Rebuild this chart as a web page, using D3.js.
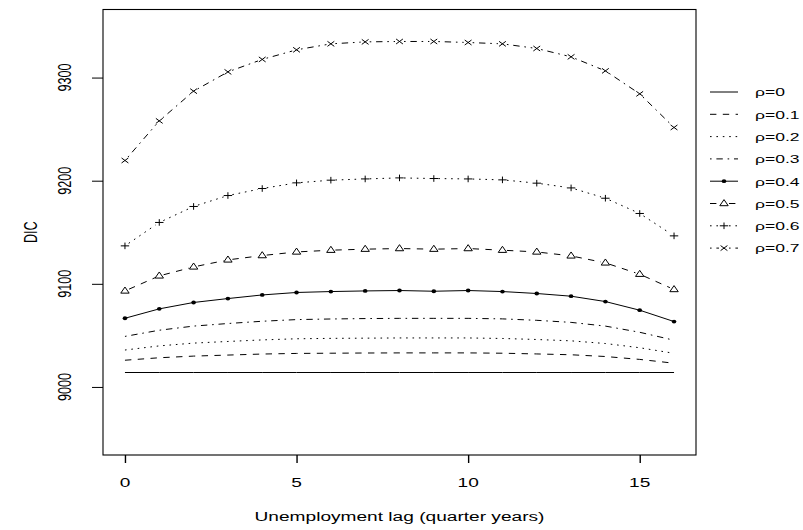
<!DOCTYPE html>
<html>
<head>
<meta charset="utf-8">
<script src="https://cdn.jsdelivr.net/npm/d3@7"></script>
<style>
  body { margin: 0; background: #fff; }
  text { font-family: "Liberation Sans", Arial, Helvetica, sans-serif; fill: #000; }
</style>
</head>
<body>
<svg id="chart" width="803" height="530"></svg>
<script>
// Unemployment lag in quarter years
const lags = [0, 1, 2, 3, 4, 5, 6, 7, 8, 9, 10, 11, 12, 13, 14, 15, 16];

// DIC for each spatial correlation rho
const rho00 = [9014, 9014, 9014, 9014, 9014, 9014, 9014, 9014, 9014, 9014, 9014, 9014, 9014, 9014, 9014, 9014, 9014];
const rho01 = [9025.9, 9028.3, 9029.9, 9030.9, 9031.9, 9032.5, 9032.7, 9032.9, 9033.0, 9033.0, 9033.0, 9032.7, 9032.0, 9031.2, 9029.5, 9026.7, 9023.0];
const rho02 = [9035.8, 9039.8, 9042.5, 9044.1, 9045.6, 9046.7, 9047.1, 9047.3, 9047.5, 9047.5, 9047.5, 9047.0, 9046.0, 9044.7, 9042.1, 9038.0, 9032.6];
const rho03 = [9049.0, 9055.0, 9059.0, 9061.5, 9063.7, 9065.3, 9065.9, 9066.3, 9066.5, 9066.5, 9066.5, 9066.0, 9064.6, 9062.6, 9059.0, 9053.0, 9045.3];
const rho04 = [9066.6, 9075.7, 9081.9, 9085.7, 9089.2, 9091.6, 9092.5, 9093.1, 9093.5, 9092.8, 9093.5, 9092.5, 9090.6, 9088.0, 9082.8, 9074.4, 9063.4];
const rho05 = [9093.1, 9107.7, 9116.4, 9123.2, 9127.4, 9130.9, 9132.6, 9133.6, 9134.2, 9133.6, 9134.2, 9132.6, 9130.9, 9127.1, 9120.3, 9109.3, 9094.5];
const rho06 = [9136.8, 9159.5, 9175.0, 9185.6, 9192.4, 9197.9, 9200.5, 9201.7, 9202.7, 9202.1, 9201.7, 9200.8, 9197.6, 9193.0, 9183.0, 9168.2, 9146.5];
const rho07 = [9219.6, 9258.0, 9286.8, 9305.5, 9317.6, 9326.9, 9332.7, 9334.6, 9335.0, 9335.0, 9334.0, 9332.7, 9328.2, 9320.1, 9306.5, 9284.2, 9251.6];

const seriesLabels = ["ρ=0", "ρ=0.1", "ρ=0.2", "ρ=0.3", "ρ=0.4", "ρ=0.5", "ρ=0.6", "ρ=0.7"];

const xTicks = [0, 5, 10, 15];
const yTicks = [9000, 9100, 9200, 9300];
const xTitle = "Unemployment lag (quarter years)";
const yTitle = "DIC";

// Line types and plotting symbols per series
const DASHED = "6.4,6.4", DOTTED = "1.6,4.8", DOTDASH = "1.6,4.8,6.4,4.8";
const lineTypes = [null, DASHED, DOTTED, DOTDASH, null, DASHED, DOTTED, DOTDASH];
const symbols = [null, null, null, null, "dot", "triangle", "plus", "cross"];
const gapped = [false, false, false, false, false, true, true, true];

const seriesValues = [rho00, rho01, rho02, rho03, rho04, rho05, rho06, rho07];

// Graphics device is stretched horizontally relative to vertically
const SX = 1.593, SY = 1.052;

const box = { left: 103, right: 696, top: 9.5, bottom: 455 };

const svg = d3.select("#chart");

const x = d3.scaleLinear().domain([-0.64, 16.64]).range([box.left, box.right]);
const y = d3.scaleLinear().domain([8934, 9366]).range([box.bottom, box.top]);

function stretchedText(g, px, py, str, anchor, rotate, size) {
  g.append("text")
    .attr("transform", `translate(${px},${py}) scale(${SX},${SY})` + (rotate ? " rotate(-90)" : ""))
    .attr("text-anchor", anchor)
    .attr("font-size", size || 12)
    .text(str);
}

function symbolPath(kind) {
  switch (kind) {
    case "triangle": return "M0,-3.9L4.2,2.2L-4.2,2.2Z";
    case "plus": return "M-4.2,0H4.2M0,-3.3V3.3";
    case "cross": return "M-3.4,-2.5L3.4,2.5M-3.4,2.5L3.4,-2.5";
    default: return null;
  }
}

function drawSymbol(g, kind, px, py) {
  if (kind === "dot") {
    g.append("ellipse").attr("cx", px).attr("cy", py).attr("rx", 2.3).attr("ry", 1.9).attr("fill", "#000");
  } else if (kind) {
    g.append("path").attr("transform", `translate(${px},${py})`).attr("d", symbolPath(kind))
      .attr("fill", kind === "triangle" ? "#fff" : "none").attr("stroke", "#000").attr("stroke-width", 1);
  }
}

// Series
const plot = svg.append("g");
const lineGen = d3.line().x((d, i) => x(lags[i])).y(d => y(d));

seriesValues.forEach((vals, s) => {
  const g = plot.append("g");
  if (!gapped[s]) {
    g.append("path").attr("d", lineGen(vals)).attr("fill", "none").attr("stroke", "#000")
      .attr("stroke-width", 1).attr("stroke-dasharray", lineTypes[s]);
  } else {
    const gap = 4.5;
    for (let i = 0; i < vals.length - 1; i++) {
      const x0 = x(lags[i]), y0 = y(vals[i]), x1 = x(lags[i + 1]), y1 = y(vals[i + 1]);
      const len = Math.hypot(x1 - x0, y1 - y0);
      const ux = (x1 - x0) / len, uy = (y1 - y0) / len;
      g.append("line")
        .attr("x1", x0 + ux * gap).attr("y1", y0 + uy * gap)
        .attr("x2", x1 - ux * gap).attr("y2", y1 - uy * gap)
        .attr("stroke", "#000").attr("stroke-width", 1).attr("stroke-dasharray", lineTypes[s]);
    }
  }
  if (symbols[s]) vals.forEach((v, i) => drawSymbol(g, symbols[s], x(lags[i]), y(v)));
});

// Plot frame
svg.append("rect").attr("x", box.left).attr("y", box.top)
  .attr("width", box.right - box.left).attr("height", box.bottom - box.top)
  .attr("fill", "none").attr("stroke", "#000").attr("stroke-width", 1.1);

// Axes
const xAxis = svg.append("g").attr("transform", `translate(0,${box.bottom})`)
  .call(d3.axisBottom(x).tickValues(xTicks).tickSizeInner(8).tickSizeOuter(0).tickFormat(""));
xAxis.select(".domain").remove();
xAxis.selectAll(".tick line").attr("stroke", "#000").attr("stroke-width", 1.4);

const yAxis = svg.append("g").attr("transform", `translate(${box.left},0)`)
  .call(d3.axisLeft(y).tickValues(yTicks).tickSizeInner(11).tickSizeOuter(0).tickFormat(""));
yAxis.select(".domain").remove();
yAxis.selectAll(".tick line").attr("stroke", "#000").attr("stroke-width", 1);

const labels = svg.append("g");
xTicks.forEach(t => stretchedText(labels, x(t), 487, String(t), "middle", false));
yTicks.forEach(t => stretchedText(labels, 71, y(t), String(t), "middle", true));
stretchedText(labels, (box.left + box.right) / 2, 521, xTitle, "middle", false);
stretchedText(labels, 37, (box.top + box.bottom) / 2, yTitle, "middle", true);

// Legend
const legend = svg.append("g");
const lx0 = 710, lx1 = 738, lxm = 724, ltx = 755, ly0 = 92, lstep = 22.3;
seriesLabels.forEach((lab, s) => {
  const ly = ly0 + s * lstep;
  if (gapped[s]) {
    [[lx0, lxm - 5], [lxm + 5, lx1]].forEach(([a, b]) =>
      legend.append("line").attr("x1", a).attr("x2", b).attr("y1", ly).attr("y2", ly)
        .attr("stroke", "#000").attr("stroke-width", 1).attr("stroke-dasharray", lineTypes[s]));
  } else {
    legend.append("line").attr("x1", lx0).attr("x2", lx1).attr("y1", ly).attr("y2", ly)
      .attr("stroke", "#000").attr("stroke-width", 1).attr("stroke-dasharray", lineTypes[s]);
  }
  if (symbols[s]) drawSymbol(legend, symbols[s], lxm, ly);
  stretchedText(legend, ltx, ly + 4.3, lab, "start", false, 11);
});
</script>
</body>
</html>
